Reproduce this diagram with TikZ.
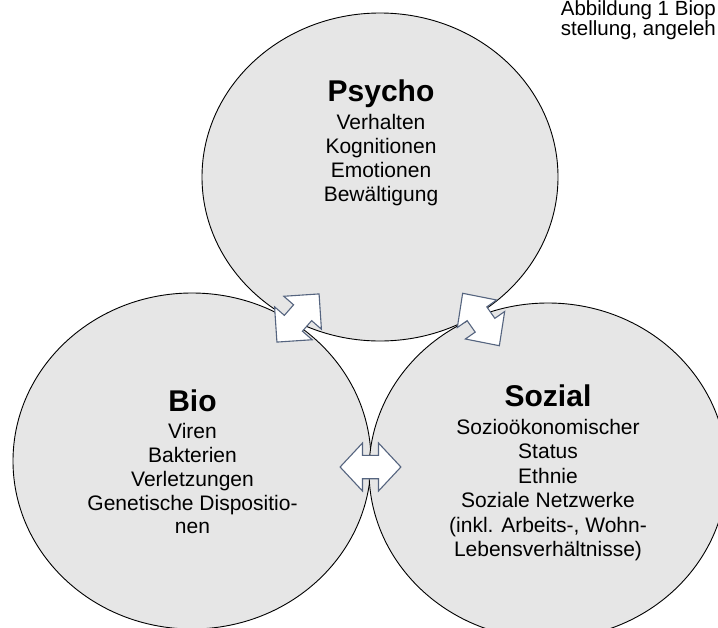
\documentclass[tikz,border=0pt]{standalone}
\usepackage{fontspec}
\setmainfont{Liberation Sans}
\usetikzlibrary{shapes.geometric}
\definecolor{blobfill}{HTML}{E6E6E6}
\definecolor{arrline}{HTML}{55647F}
\begin{document}
\begin{tikzpicture}[x=1pt,y=-1pt,
  blob/.style={ellipse, draw=black, line width=0.9pt, fill=blobfill, inner sep=0pt, outer sep=0pt},
  titletext/.style={font=\fontsize{30}{34}\selectfont\bfseries, anchor=base, inner sep=0pt},
  bodytext/.style={font=\fontsize{21}{24}\selectfont, anchor=base, inner sep=0pt},
  captext/.style={font=\fontsize{20.5}{22}\selectfont, anchor=base west, inner sep=0pt},
  blockarrow/.style={draw=arrline, line width=1.1pt, fill=white, line join=miter}]
\useasboundingbox (0,0) rectangle (718,627);
\clip (0,0) rectangle (718,627);

% circles
\node[blob, minimum width=358pt, minimum height=336pt] (bio) at (192,461) {};
\node[blob, minimum width=358pt, minimum height=336pt] (sozial) at (548,471) {};
\node[blob, minimum width=356pt, minimum height=328pt] (psycho) at (380,177) {};

% double arrows
\begin{scope}[shift={(298,318)}, rotate=48.8]
\draw[blockarrow] (32,0) -- (7,25) -- (7,12) -- (-7,12) -- (-7,25) -- (-32,0)
  -- (-7,-25) -- (-7,-12) -- (7,-12) -- (7,-25) -- cycle;
\end{scope}
\begin{scope}[shift={(481,319.5)}, rotate=-55]
\draw[blockarrow] (32,0) -- (7,24) -- (7,12) -- (-7,12) -- (-7,24) -- (-32,0)
  -- (-7,-24) -- (-7,-12) -- (7,-12) -- (7,-24) -- cycle;
\end{scope}
\begin{scope}[shift={(370.5,467)}]
\draw[blockarrow] (30.4,0) -- (8,24) -- (8,11.7) -- (-8,11.7) -- (-8,24) -- (-30.4,0)
  -- (-8,-24) -- (-8,-11.7) -- (8,-11.7) -- (8,-24) -- cycle;
\end{scope}

% Psycho
\node[titletext] (psyT) at (381,101.7) {Psycho};
\foreach \t [count=\i] in {Verhalten,Kognitionen,Emotionen,Bewältigung}
  \node[bodytext] (psy\i) at (381,{129+(\i-1)*24.2}) {\t};

% Bio
\node[titletext] (bioT) at (192.5,411.7) {Bio};
\foreach \t [count=\i] in {Viren,Bakterien,Verletzungen,Genetische Dispositio-,nen}
  \node[bodytext] (bio\i) at (192.5,{438.3+(\i-1)*23.9}) {\t};

% Sozial
\node[titletext] (sozT) at (548,406.7) {Sozial};
\foreach \t [count=\i] in {Sozioökonomischer,Status,Ethnie,Soziale Netzwerke,{(inkl. Arbeits-, Wohn-},Lebensverhältnisse)}
  \node[bodytext] (soz\i) at (548,{434+(\i-1)*24.5}) {\t};

% caption (cut by the picture edge)
\node[captext, text depth=0pt] (cap1) at (560.7,15.7) {Abbildung 1 Biop};
\node[captext, text height=13.5pt] (cap2) at (560.7,35.4) {stellung, angeleh};
\end{tikzpicture}
\end{document}
